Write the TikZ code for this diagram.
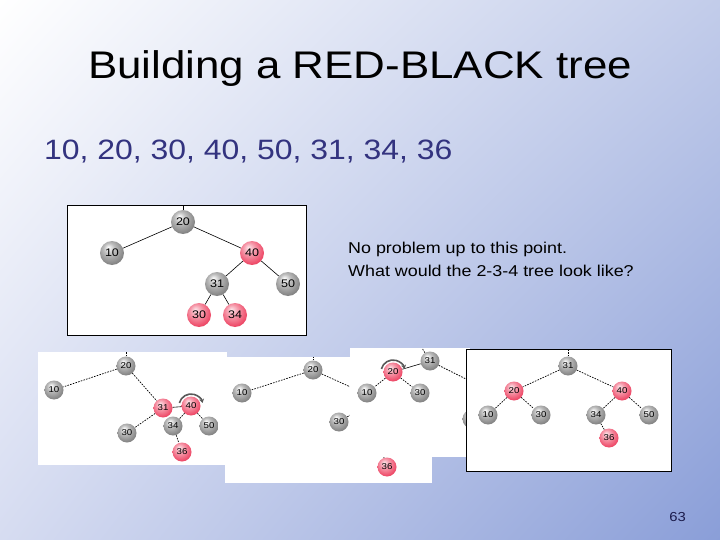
\documentclass[tikz,border=0pt]{standalone}
\usepackage{fontspec}
\setmainfont[FakeStretch=1.14]{Liberation Sans}
\usetikzlibrary{arrows.meta,positioning,shadings}
\definecolor{SeqNavy}{HTML}{33337F}
\definecolor{PageNavy}{HTML}{1C1C4C}
\definecolor{NodeRed}{HTML}{EE4A68}
\definecolor{NodeGray}{HTML}{858585}
\definecolor{BgTR}{HTML}{C2CCEA}
\definecolor{BgBL}{HTML}{D6DCF1}
\definecolor{BgBR}{HTML}{8A9ED8}
\pgfdeclareradialshading{grayball}{\pgfpoint{-8bp}{12bp}}{color(0bp)=(white);
  color(12bp)=(NodeGray!55!white); color(28bp)=(NodeGray); color(44bp)=(NodeGray!65!black);
  color(50bp)=(NodeGray!55!black)}
\pgfdeclareradialshading{redball}{\pgfpoint{-8bp}{12bp}}{color(0bp)=(NodeRed!15!white);
  color(12bp)=(NodeRed!55!white); color(28bp)=(NodeRed); color(44bp)=(NodeRed!75!black);
  color(50bp)=(NodeRed!60!black)}

\begin{document}
\begin{tikzpicture}[x=1pt,y=-1pt,
    gnode/.style={circle,inner sep=0pt,minimum size=19pt,shade,shading=grayball,text=black,font=\fontsize{8.5}{8.5}\selectfont},
    rnode/.style={gnode,shading=redball},
    big/.style={minimum size=24pt,font=\fontsize{11}{11}\selectfont},
    link/.style={line width=0.6pt},
    dlink/.style={line width=0.7pt,dash pattern=on 1.6pt off 1.2pt},
    panel/.style={fill=white},
    framed/.style={fill=white,draw=black,line width=0.8pt},
    rot/.style={line width=1.6pt,gray!70!black,-{Stealth[length=4pt,width=5pt]}},
    txt/.style={inner sep=0pt},
    >=Stealth
  ]
  \useasboundingbox (0,0) rectangle (720,540);
  % Background
  \shade[upper left=white,upper right=BgTR,lower left=BgBL,lower right=BgBR] (0,0) rectangle (720,540);
  % Texts
  \node[txt,anchor=base,font=\fontsize{38.5}{40}\selectfont] (title) at (360,79) {Building a RED-BLACK tree};
  \node[txt,anchor=base west,font=\fontsize{28}{30}\selectfont,text=SeqNavy] (seq) at (44,160) {10, 20, 30, 40, 50, 31, 34, 36};
  \node[txt,anchor=base west,font=\fontsize{15.7}{18}\selectfont] (note1) at (348,254) {No problem up to this point.};
  \node[txt,anchor=base west,font=\fontsize{15.7}{18}\selectfont] (note2) at (348,276) {What would the 2-3-4 tree look like?};
  \node[txt,anchor=base east,font=\fontsize{13}{13}\selectfont,text=PageNavy] (pg) at (686,521) {63};

  % Top tree
  \draw[framed] (67,205) rectangle (306,335);
  \node[gnode,big] (t20) at (183,222) {20};
  \node[gnode,big] (t10) at (112,253) {10};
  \node[rnode,big] (t40) at (252,253) {40};
  \node[gnode,big] (t31) at (217,284) {31};
  \node[gnode,big] (t50) at (288,284) {50};
  \node[rnode,big] (t30) at (199,315) {30};
  \node[rnode,big] (t34) at (235,315) {34};
  \coordinate (t20up) at (183,205);
  \draw[link] (t20) -- (t20up);
  \draw[link] (t20) -- (t10);
  \draw[link] (t20) -- (t40);
  \draw[link] (t40) -- (t31);
  \draw[link] (t40) -- (t50);
  \draw[link] (t31) -- (t30);
  \draw[link] (t31) -- (t34);

  % Panel A
  \fill[panel] (38,352) rectangle (227,465);
  \node[gnode] (a20) at (126,366) {20};
  \node[gnode] (a10) at (54,390) {10};
  \node[rnode] (a31) at (163,408) {31};
  \node[rnode] (a40) at (191,406) {40};
  \node[gnode] (a30) at (127,433) {30};
  \node[gnode] (a34) at (173,426) {34};
  \node[gnode] (a50) at (209,426) {50};
  \node[rnode] (a36) at (182,452) {36};
  \coordinate (a20up) at (126,352);
  \draw[dlink] (a20) -- (a20up);
  \draw[dlink] (a20) -- (a10);
  \draw[dlink] (a20) -- (a31);
  \draw[link] (a31) -- (a40);
  \draw[dlink] (a31) -- (a30);
  \draw[dlink] (a40) -- (a34);
  \draw[dlink] (a40) -- (a50);
  \draw[dlink] (a34) -- (a36);
  \draw[rot] ([shift={(-165:12)}]a40.center) arc[start angle=-165,end angle=-15,radius=12];

  % Panel B
  \fill[panel] (225,357) rectangle (432,483);
  \node[gnode] (b20) at (313,370) {20};
  \node[gnode] (b10) at (242,393) {10};
  \node[gnode] (b30) at (339,422) {30};
  \node[rnode] (b36) at (387,467) {36};
  \coordinate (b20up) at (313,357);
  \coordinate (b20off) at (366,394);
  \coordinate (b30off) at (368,404);
  \coordinate (b36off) at (380,445);
  \draw[dlink] (b20) -- (b20up);
  \draw[dlink] (b20) -- (b10);
  \draw[dlink] (b20) -- (b20off);
  \draw[dlink] (b30) -- (b30off);
  \draw[dlink] (b36) -- (b36off);

  % Panel C
  \fill[panel] (350,348) rectangle (470,457);
  \node[rnode] (c20) at (393,372) {20};
  \node[gnode] (c31) at (430,361) {31};
  \node[gnode] (c10) at (367,393) {10};
  \node[gnode] (c30) at (420,393) {30};
  \node[gnode] (cx) at (472,419) {};
  \coordinate (c31up) at (422,348);
  \coordinate (c31off) at (470,381);
  \draw[link] (c20) -- (c31);
  \draw[dlink] (c20) -- (c10);
  \draw[dlink] (c20) -- (c30);
  \draw[dlink] (c31) -- (c31up);
  \draw[dlink] (c31) -- (c31off);
  \draw[rot] ([shift={(-165:12)}]c20.center) arc[start angle=-165,end angle=-15,radius=12];

  % Panel D
  \draw[framed] (466,349) rectangle (671,471);
  \node[gnode] (d31) at (568,366) {31};
  \node[rnode] (d20) at (514,391) {20};
  \node[rnode] (d40) at (622,391) {40};
  \node[gnode] (d10) at (488,415) {10};
  \node[gnode] (d30) at (541,415) {30};
  \node[gnode] (d34) at (596,415) {34};
  \node[gnode] (d50) at (649,415) {50};
  \node[rnode] (d36) at (609,438) {36};
  \coordinate (d31up) at (568,349);
  \draw[dlink] (d31) -- (d31up);
  \draw[dlink] (d31) -- (d20);
  \draw[dlink] (d31) -- (d40);
  \draw[dlink] (d20) -- (d10);
  \draw[dlink] (d20) -- (d30);
  \draw[dlink] (d40) -- (d34);
  \draw[dlink] (d40) -- (d50);
  \draw[dlink] (d34) -- (d36);
\end{tikzpicture}
\end{document}
